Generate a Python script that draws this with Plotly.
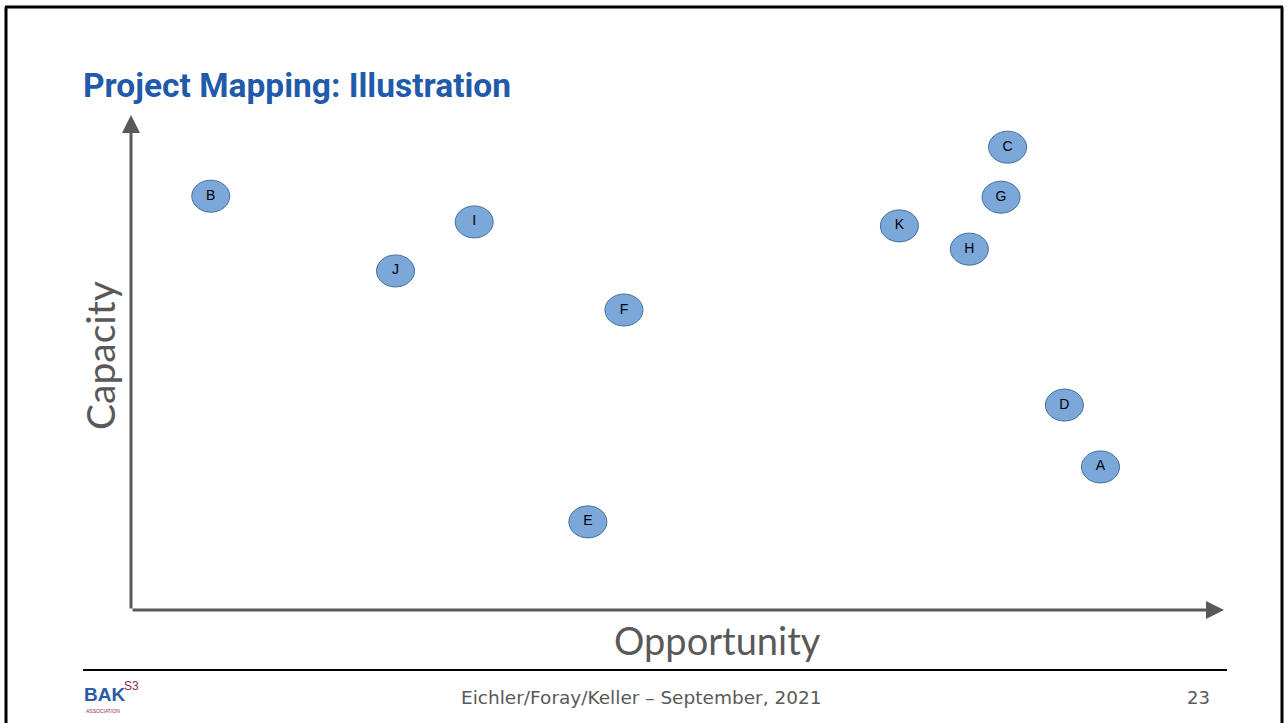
import plotly.graph_objects as go

# ---- data ----
labels = ["A", "B", "C", "D", "E", "F", "G", "H", "I", "J", "K"]
opportunity = [8.87, 0.73, 8.02, 8.54, 4.18, 4.51, 7.96, 7.67, 3.14, 2.42, 7.03]
capacity = [2.89, 8.36, 9.35, 4.14, 1.78, 6.06, 8.34, 7.29, 7.84, 6.85, 7.76]

title_text = "Project Mapping: Illustration"
x_title = "Opportunity"
y_title = "Capacity"
footer_text = "Eichler/Foray/Keller \u2013 September, 2021"
page_no = "23"

W, H = 1287, 723
L, R, T, B = 131, 1224, 115, 610  # plot area in pixels


def px(x):
    return (x - L) / (R - L)


def py(y):
    return (B - y) / (B - T)


AXIS_COL = "#595959"
FILL = "#7BA8D8"
EDGE = "#41719C"

fig = go.Figure()

fig.add_trace(go.Scatter(
    x=opportunity, y=capacity, mode="text", text=labels,
    textfont=dict(family="Liberation Sans, Arial", size=14, color="#000000"),
    hoverinfo="skip", showlegend=False,
))

shapes = []
# ellipse bubbles anchored on data
for xv, yv in zip(opportunity, capacity):
    shapes.append(dict(
        type="circle", xref="x", yref="y",
        xsizemode="pixel", ysizemode="pixel",
        xanchor=xv, yanchor=yv, x0=-19, x1=19, y0=-16, y1=16,
        fillcolor=FILL, line=dict(color=EDGE, width=1), layer="below",
    ))

# slide border (top, left, right)
shapes.append(dict(type="line", xref="paper", yref="paper",
                   x0=px(5), x1=px(1283), y0=py(7), y1=py(7),
                   line=dict(color="#000000", width=3)))
shapes.append(dict(type="line", xref="paper", yref="paper",
                   x0=px(6), x1=px(6), y0=py(7), y1=py(725),
                   line=dict(color="#000000", width=3)))
shapes.append(dict(type="line", xref="paper", yref="paper",
                   x0=px(1282), x1=px(1282), y0=py(7), y1=py(725),
                   line=dict(color="#000000", width=3)))
# footer separator
shapes.append(dict(type="line", xref="paper", yref="paper",
                   x0=px(83), x1=px(1227), y0=py(670), y1=py(670),
                   line=dict(color="#000000", width=2)))

annotations = [
    # axis arrows
    dict(x=10, y=0, ax=0, ay=0, xref="x", yref="y", axref="x", ayref="y",
         showarrow=True, arrowhead=2, arrowsize=1.2, arrowwidth=3,
         arrowcolor=AXIS_COL, text=""),
    dict(x=0, y=10, ax=0, ay=0, xref="x", yref="y", axref="x", ayref="y",
         showarrow=True, arrowhead=2, arrowsize=1.2, arrowwidth=3,
         arrowcolor=AXIS_COL, text=""),
    # title
    dict(x=px(81), y=py(85), xref="paper", yref="paper", xanchor="left",
         yanchor="middle", showarrow=False, text="<b>" + title_text + "</b>",
         font=dict(family="Roboto", size=33.5, color="#1F5BAA")),
    # axis titles
    dict(x=px(717), y=py(640), xref="paper", yref="paper", xanchor="center",
         yanchor="middle", showarrow=False, text=x_title,
         font=dict(family="Lato", size=38, color=AXIS_COL)),
    dict(x=px(100), y=py(356), xref="paper", yref="paper", xanchor="center",
         yanchor="middle", showarrow=False, text=y_title, textangle=-90,
         font=dict(family="Lato", size=39, color=AXIS_COL)),
    # footer
    dict(x=px(641), y=py(697), xref="paper", yref="paper", xanchor="center",
         yanchor="middle", showarrow=False, text=footer_text,
         font=dict(family="DejaVu Sans", size=18.5, color=AXIS_COL)),
    dict(x=px(1212), y=py(697), xref="paper", yref="paper", xanchor="right",
         yanchor="middle", showarrow=False, text=page_no,
         font=dict(family="DejaVu Sans", size=18, color=AXIS_COL)),
    # logo
    dict(x=px(82), y=py(694), xref="paper", yref="paper", xanchor="left",
         yanchor="middle", showarrow=False, text="<b>BAK</b>",
         font=dict(family="Liberation Sans", size=19, color="#2A5CA8")),
    dict(x=px(122), y=py(686), xref="paper", yref="paper", xanchor="left",
         yanchor="middle", showarrow=False, text="S3",
         font=dict(family="Liberation Sans", size=12, color="#8B2A5A")),
    dict(x=px(84), y=py(711), xref="paper", yref="paper", xanchor="left",
         yanchor="middle", showarrow=False, text="ASSOCIATION",
         font=dict(family="Liberation Sans", size=5, color="#8B2A5A")),
]

fig.update_layout(
    width=W, height=H,
    margin=dict(l=L, r=W - R, t=T, b=H - B, pad=0),
    paper_bgcolor="#FFFFFF", plot_bgcolor="#FFFFFF",
    xaxis=dict(range=[0, 10], visible=False, fixedrange=True),
    yaxis=dict(range=[0, 10], visible=False, fixedrange=True),
    shapes=shapes, annotations=annotations, showlegend=False,
)

fig.write_html("out.html", config={"displayModeBar": False})
